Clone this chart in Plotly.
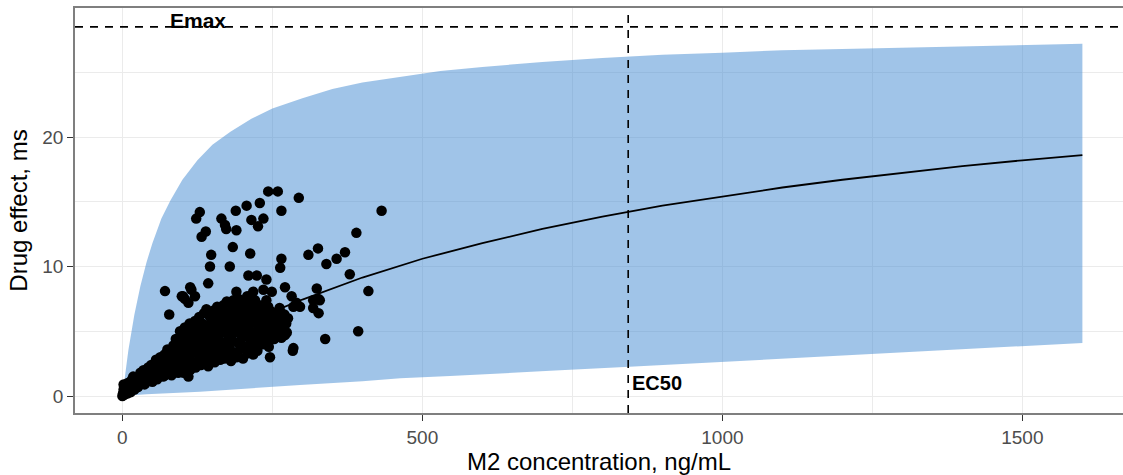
import plotly.graph_objects as go

# ---------------- data ----------------
emax_value = 28.5
ec50_value = 843

# prediction interval (ribbon) edges
band_upper_conc = [0, 5, 10, 20, 30, 40, 50, 65, 80, 100, 125, 150, 180, 215, 250, 300,
                   350, 400, 460, 530, 600, 700, 800, 900, 1000, 1100, 1200, 1300, 1400, 1500, 1600]
band_upper_eff = [0.0, 1.9, 3.55, 6.3, 8.5, 10.3, 11.8, 13.7, 15.1, 16.7, 18.2, 19.4, 20.4, 21.4, 22.2, 23.0,
                  23.7, 24.2, 24.6, 25.1, 25.4, 25.8, 26.1, 26.35, 26.5, 26.7, 26.8, 26.9, 27.0, 27.1, 27.2]
band_lower_conc = [0, 40, 129, 200, 296, 400, 463, 546, 600, 713, 845, 1000, 1200, 1400, 1600]
band_lower_eff = [0.0, 0.13, 0.33, 0.55, 0.85, 1.15, 1.37, 1.54, 1.65, 1.95, 2.26, 2.65, 3.1, 3.6, 4.1]

# model curve
curve_conc = [0, 50, 100, 150, 200, 250, 300, 400, 500, 600, 700, 800, 900, 1000,
              1100, 1200, 1300, 1400, 1500, 1600]
curve_eff = [0.0, 1.6, 3.0, 4.3, 5.45, 6.5, 7.45, 9.15, 10.6, 11.8, 12.9, 13.85, 14.7, 15.4,
             16.1, 16.7, 17.25, 17.75, 18.2, 18.6]

# observations (concentration, effect)
observations = [
    (0, 0.0), (1, 0.2), (2, 0.5), (3, 0.1), (4, 0.8), (5, 0.3), (6, 0.6), (2, 0.9), (8, 0.2), (9, 1.0),
    (11, 0.5), (12, 0.9), (14, 0.3), (15, 1.2), (17, 0.7), (19, 1.1), (20, 0.5), (18, 1.5),
    (22, 0.9), (24, 1.4), (26, 0.7), (28, 1.2), (30, 1.8), (32, 1.0), (34, 1.5), (35, 2.0),
    (37, 0.9), (39, 1.3), (41, 1.8), (43, 2.2), (45, 1.2), (47, 1.6), (48, 2.4), (50, 1.1), (50, 2.0),
    (53, 1.5), (55, 2.3), (56, 2.8), (58, 1.3), (60, 1.9), (61, 2.5), (63, 3.0), (64, 1.6), (65, 2.2),
    (67, 2.7), (68, 1.5), (70, 3.2), (72, 2.0), (73, 2.5), (75, 3.6), (77, 1.8), (78, 2.9), (80, 2.3), (80, 3.3),
    (82, 1.6), (84, 2.6), (85, 3.9), (86, 3.0), (88, 2.1), (89, 4.4), (90, 3.4), (92, 2.5), (93, 1.8), (94, 4.0), (95, 3.0),
    (96, 5.0), (97, 2.2), (98, 3.6), (100, 4.5), (101, 2.7), (102, 1.8), (103, 3.2), (104, 5.3), (105, 4.0),
    (107, 2.4), (108, 3.7), (109, 4.8), (110, 2.9),
    (112, 5.6), (113, 2.0), (114, 4.3), (115, 3.3), (116, 5.1), (118, 2.6), (119, 3.9), (120, 4.7), (121, 5.8),
    (122, 2.2), (123, 3.5), (124, 4.4), (125, 5.3),
    (127, 2.8), (128, 6.1), (129, 3.8), (130, 4.9), (131, 2.4), (133, 5.6), (134, 3.3), (135, 4.3), (136, 6.4),
    (137, 2.7), (138, 5.1), (139, 3.9), (140, 6.7),
    (142, 4.7), (143, 2.3), (144, 3.4), (145, 5.5), (146, 6.1), (147, 4.1), (148, 2.9), (150, 5.0), (151, 3.6),
    (152, 6.6), (153, 4.5), (154, 2.6), (155, 5.8),
    (157, 3.9), (158, 6.9), (159, 4.8), (160, 3.1), (161, 5.4), (162, 6.3), (163, 2.8), (164, 4.2), (166, 5.9),
    (167, 3.5), (168, 7.0), (169, 4.9), (170, 2.9),
    (171, 6.5), (172, 4.0), (173, 5.4), (174, 3.2), (176, 6.0), (177, 4.6), (178, 7.2), (179, 3.7), (180, 5.2),
    (181, 2.7), (182, 6.6), (183, 4.3), (185, 5.7),
    (186, 3.3), (187, 7.0), (188, 4.9), (189, 6.2), (190, 3.0), (191, 5.5), (193, 4.1), (194, 7.5), (195, 6.7),
    (196, 3.6), (197, 5.0), (199, 4.5), (200, 6.1),
    (201, 2.9), (202, 7.1), (203, 5.6), (204, 3.8), (206, 4.7), (207, 6.5), (208, 7.7), (209, 3.3), (210, 5.2),
    (211, 6.0), (213, 4.3), (214, 7.2), (215, 5.7),
    (216, 3.6), (217, 6.7), (219, 4.9), (220, 5.9), (221, 7.4), (222, 4.1), (224, 6.3), (225, 3.5), (226, 5.4),
    (228, 7.0), (229, 4.6), (230, 6.1),
    (232, 5.1), (233, 6.8), (234, 4.0), (236, 5.7), (238, 6.4), (239, 4.5), (241, 5.3), (243, 6.9), (244, 3.8),
    (246, 5.9), (248, 4.9), (249, 6.5), (250, 5.5),
    (253, 4.4), (255, 6.2), (257, 5.0), (259, 5.7), (262, 6.8), (264, 5.3), (267, 5.9), (270, 6.3), (273, 5.6), (276, 6.0),
    # scattered points
    (243, 15.8), (259, 15.8), (294, 15.3), (207, 14.7), (229, 14.9), (189, 14.3), (265, 14.3), (129, 14.2),
    (123, 13.7), (165, 13.7), (171, 13.2), (173, 12.9), (215, 13.6), (235, 13.7), (226, 13.1), (190, 12.8),
    (139, 12.7), (132, 12.3), (432, 14.3), (390, 12.6), (184, 11.5), (213, 11.0), (148, 10.9), (265, 10.6),
    (263, 9.9), (310, 10.9), (326, 11.4), (340, 10.2), (357, 10.6), (371, 11.1), (379, 9.4), (410, 8.1),
    (146, 10.0), (179, 10.0), (210, 9.3), (224, 9.3), (240, 9.0), (143, 8.7), (71, 8.1), (101, 7.7),
    (115, 8.2), (78, 6.3), (271, 8.4), (282, 7.7), (324, 8.3), (327, 7.5), (327, 6.4), (393, 5.0),
    (338, 4.4), (271, 4.7), (265, 4.5), (284, 3.5), (218, 3.2), (246, 3.0), (290, 7.2), (296, 6.9),
    (190, 8.05), (218, 8.05), (235, 8.2), (249, 8.05), (174, 7.3), (185, 7.4), (104, 7.5), (121, 7.7),
    (113, 8.4), (318, 7.4), (329, 7.4), (318, 6.8), (285, 6.9), (265, 6.4), (274, 4.9), (285, 3.7),
    (110, 1.5), (71, 1.6), (99, 7.7), (110, 7.2), (249, 6.1), (240, 7.4), (243, 5.35), (240, 4.3),
    (218, 4.3), (213, 3.9),
]
obs_conc = [p[0] for p in observations]
obs_eff = [p[1] for p in observations]

x_ticks = [0, 500, 1000, 1500]
y_ticks = [0, 10, 20]

# ---------------- figure ----------------
FONT = "Liberation Sans, Arial, sans-serif"
fig = go.Figure()

fig.add_trace(go.Scatter(
    x=band_upper_conc + band_lower_conc[::-1],
    y=band_upper_eff + band_lower_eff[::-1],
    fill="toself", fillcolor="rgba(65,137,209,0.5)",
    line=dict(width=0), mode="lines", hoverinfo="skip", showlegend=False))

fig.add_trace(go.Scatter(
    x=obs_conc, y=obs_eff, mode="markers",
    marker=dict(color="black", size=10.5, line=dict(width=0)), showlegend=False))

fig.add_trace(go.Scatter(
    x=curve_conc, y=curve_eff, mode="lines",
    line=dict(color="black", width=1.8), showlegend=False))

fig.add_hline(y=emax_value, line=dict(color="black", width=1.6, dash="8px,7px"))
fig.add_vline(x=ec50_value, line=dict(color="black", width=1.6, dash="8px,7px"))

fig.add_annotation(x=126, y=29.0, text="<b>Emax</b>", showarrow=False,
                   font=dict(family=FONT, size=21, color="black"), xanchor="center", yanchor="middle")
fig.add_annotation(x=ec50_value, y=1.0, text="<b>EC50</b>", showarrow=False, xshift=2,
                   font=dict(family=FONT, size=20, color="black"), xanchor="left", yanchor="middle")

grid = "#EBEBEB"
fig.update_layout(
    width=1123, height=475,
    margin=dict(l=75, r=0, t=8, b=62),
    paper_bgcolor="white", plot_bgcolor="white",
    font=dict(family=FONT, color="black"),
    xaxis=dict(
        range=[-79, 1667.7], tickvals=x_ticks, ticktext=[str(v) for v in x_ticks],
        showgrid=True, gridcolor=grid, gridwidth=1.3,
        minor=dict(tickvals=[250, 750, 1250], showgrid=True, gridcolor=grid, gridwidth=0.7, ticklen=0),
        zeroline=False, showline=True, linecolor="#7F7F7F", linewidth=1.5, mirror=True,
        ticks="outside", ticklen=6, tickwidth=1.3, tickcolor="#333333",
        tickfont=dict(size=19, color="#4D4D4D"),
        title=dict(text="M2 concentration, ng/mL", font=dict(size=24, color="black"), standoff=6),
    ),
    yaxis=dict(
        range=[-1.31, 29.96], tickvals=y_ticks, ticktext=[str(v) for v in y_ticks],
        showgrid=True, gridcolor=grid, gridwidth=1.3,
        minor=dict(tickvals=[5, 15, 25], showgrid=True, gridcolor=grid, gridwidth=0.7, ticklen=0),
        zeroline=False, showline=True, linecolor="#7F7F7F", linewidth=1.5, mirror=False,
        ticks="outside", ticklen=6, tickwidth=1.3, tickcolor="#333333",
        tickfont=dict(size=19, color="#4D4D4D"),
        title=dict(text="Drug effect, ms", font=dict(size=24, color="black"), standoff=8),
    ),
)

fig.write_html("out.html", config={"displayModeBar": False},
               post_script="document.body.style.margin='0px';document.body.style.overflow='hidden';")
